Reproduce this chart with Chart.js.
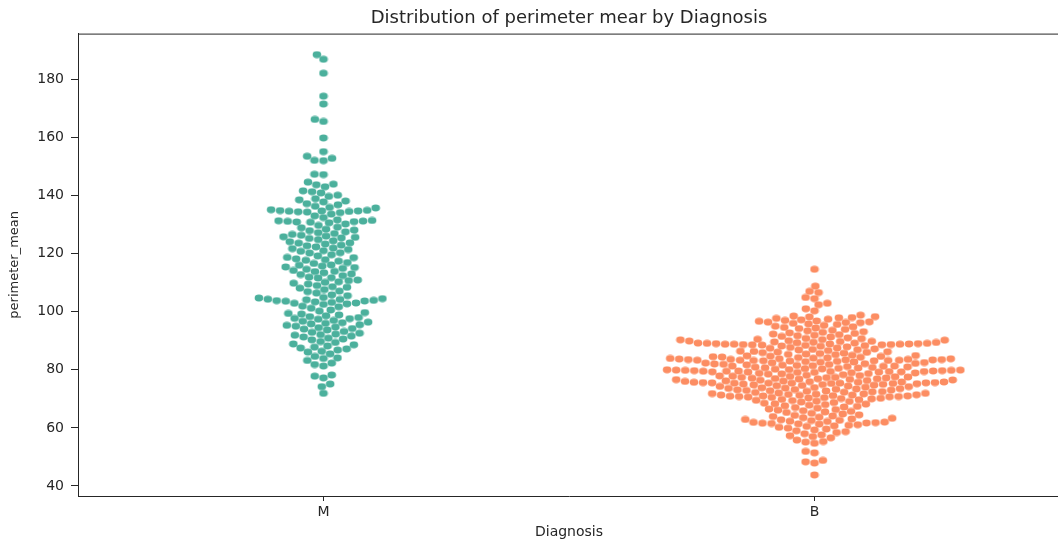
<!DOCTYPE html>
<html>
<head>
<meta charset="utf-8">
<title>Distribution of perimeter mean by Diagnosis</title>
<script src="https://cdn.jsdelivr.net/npm/chart.js@4.4.1/dist/chart.umd.min.js"></script>
<style>
  html, body { margin: 0; padding: 0; background: #fff; overflow: hidden; }
  #wrap { width: 1064px; height: 542px; position: relative; }
</style>
</head>
<body>
<div id="wrap"><canvas id="swarm-chart"></canvas></div>
<script>
// categories on the x axis
const categories = ['M', 'B'];
const yTicks = [40, 60, 80, 100, 120, 140, 160, 180];

const malignantPerimeter = [
    188.5, 186.9, 182.1, 174.2, 171.5, 166.2, 165.5, 159.8, 155.1, 153.5, 152.8, 152.1, 152.0, 147.3, 147.2,
    144.6, 143.9, 143.7, 143.0, 141.6, 141.3, 140.9, 140.1,
    139.7, 138.9, 138.5, 138.1, 137.8, 137.2, 136.8, 136.3, 135.9, 135.7, 135.1,
    134.9, 134.8, 134.7, 134.7, 134.6, 134.5, 134.4, 134.3, 134.1, 133.6, 133.0, 132.4, 131.6, 131.4, 131.3,
    131.2, 131.1, 131.0, 130.9, 130.8, 130.6, 130.2,
    129.7, 129.1, 128.9, 128.4, 128.1, 127.9, 127.5, 127.2, 126.9, 126.6, 126.3, 126.0, 125.8, 125.6, 125.4, 125.2,
    124.8, 124.4, 124.1, 123.7, 123.6, 123.3, 122.9, 122.7, 122.3, 121.9, 121.7, 121.4, 121.0, 120.8, 120.3, 120.2,
    119.6, 119.2, 118.7, 118.6, 118.2, 117.9, 117.7, 117.4, 116.9, 116.6, 116.1, 116.0, 115.7, 115.4, 115.2,
    114.9, 114.6, 114.2, 113.9, 113.8, 113.4, 113.0, 112.8, 112.4, 111.9, 111.7, 111.6, 110.9, 110.7, 110.3, 110.1,
    109.8, 109.5, 109.0, 108.6, 108.4, 108.1, 107.6, 107.1, 106.9, 106.4, 105.8, 105.5,
    104.9, 104.7, 104.5, 104.3, 104.2, 104.1, 103.9, 103.8, 103.7, 103.6, 103.4, 103.2, 103.0, 102.9, 102.7,
    102.5, 101.9, 101.7, 101.2, 100.6, 100.2,
    99.7, 99.4, 99.2, 98.9, 98.6, 98.3, 98.0, 97.7, 97.6, 97.4, 97.0, 96.7, 96.4, 96.2, 96.0, 95.8, 95.5, 95.3, 95.0,
    94.7, 94.5, 94.2, 94.0, 93.7, 93.2, 92.9, 92.6, 92.3, 92.1, 91.9, 91.6, 91.3, 90.9, 90.6, 90.3,
    89.7, 89.4, 88.9, 88.6, 88.2, 87.8, 87.5, 87.2, 86.8, 86.4, 86.1, 85.5,
    84.6, 84.1, 83.9, 83.2, 82.3, 81.8, 81.3,
    78.2, 77.8, 77.2, 75.1, 74.2, 71.9
];

const benignPerimeter = [
    114.6, 108.8, 107.0, 106.6, 104.9, 104.5, 102.9, 102.4, 101.0, 100.3,
    98.8, 98.5, 98.3, 98.2, 98.0, 97.9, 97.7,
    97.4, 97.2, 97.0, 96.8, 96.7, 96.5, 96.4, 96.3, 96.2, 96.0, 95.8, 95.6,
    95.3, 95.0, 94.8, 94.6, 94.4, 94.2, 93.9, 93.6, 93.4,
    93.1, 92.9, 92.7, 92.5, 92.3, 92.1, 91.9, 91.7, 91.5, 91.3,
    91.0, 90.8, 90.7, 90.5, 90.4, 90.3, 90.2, 90.0, 89.9, 89.8, 89.7, 89.6,
    89.5, 89.4, 89.3, 89.2, 89.2, 89.1, 89.1, 89.0, 89.0, 88.9, 88.9, 88.8, 88.8, 88.8, 88.7, 88.7, 88.6, 88.6,
    88.5, 88.4, 88.3, 88.2, 88.1,
    87.9, 87.7, 87.5, 87.4, 87.2, 87.0, 86.9, 86.8, 86.6, 86.4, 86.3, 86.2, 86.1, 86.0,
    85.9, 85.7, 85.6, 85.4, 85.3, 85.2, 85.0, 84.9, 84.8, 84.7, 84.6, 84.5, 84.4, 84.3, 84.2, 84.1, 84.0,
    83.9, 83.8, 83.8, 83.7, 83.6, 83.6, 83.5, 83.5, 83.4, 83.4, 83.3, 83.3, 83.3, 83.2, 83.2, 83.1, 83.1, 83.0,
    82.9, 82.8, 82.7, 82.6, 82.5, 82.4, 82.3,
    82.2, 82.1, 82.0, 81.9, 81.8, 81.7, 81.6, 81.5, 81.4, 81.3, 81.3, 81.2, 81.1, 81.0, 80.9, 80.8, 80.7, 80.6,
    80.5, 80.4, 80.3, 80.2,
    80.1, 80.0, 79.9, 79.9, 79.8, 79.8, 79.7, 79.7, 79.6, 79.6, 79.5, 79.5, 79.4, 79.4, 79.4, 79.3, 79.3, 79.2,
    79.2, 79.1, 79.1, 79.0, 78.9, 78.8, 78.7, 78.6, 78.5, 78.3,
    78.1, 78.0, 77.9, 77.8, 77.7, 77.6, 77.5, 77.4, 77.4, 77.3, 77.2, 77.1, 77.0, 76.9, 76.9, 76.8, 76.7, 76.6,
    76.5, 76.4, 76.3, 76.2, 76.1,
    76.0, 75.9, 75.8, 75.8, 75.7, 75.7, 75.6, 75.6, 75.5, 75.5, 75.4, 75.4, 75.4, 75.4, 75.3, 75.3, 75.2, 75.1,
    75.0, 74.9, 74.8, 74.7, 74.6, 74.5, 74.4, 74.3, 74.2, 74.0,
    73.9, 73.8, 73.7, 73.6, 73.5, 73.4, 73.3, 73.2, 73.1, 73.0, 72.9, 72.8, 72.7, 72.6, 72.5, 72.4, 72.3, 72.2,
    72.0, 71.9,
    71.8, 71.7, 71.6, 71.5, 71.4, 71.3, 71.3, 71.2, 71.1, 71.0, 71.0, 70.9, 70.8, 70.8, 70.7, 70.6, 70.5, 70.4,
    70.3, 70.2, 70.1,
    70.0, 69.8, 69.7, 69.5, 69.4, 69.2, 69.1, 68.9, 68.7, 68.5, 68.3, 68.2, 68.0,
    67.8, 67.6, 67.4, 67.2, 67.0, 66.8, 66.5, 66.3, 66.1, 65.9,
    65.7, 65.5, 65.3, 65.0, 64.8, 64.5, 64.3, 64.1, 63.9,
    63.7, 63.5, 63.3, 63.1, 62.9, 62.8, 62.6, 62.5, 62.3, 62.2, 62.0,
    61.9, 61.8, 61.7, 61.6, 61.5, 61.4, 61.3, 61.1, 60.9, 60.7, 60.5,
    60.2, 59.9, 59.6, 59.3, 59.0, 58.7, 58.4,
    58.0, 57.6, 57.3, 57.0, 56.6,
    55.8, 55.3, 55.1, 54.7,
    51.9, 51.4, 48.8, 48.3, 47.9, 43.8
];

const seriesValues = [malignantPerimeter, benignPerimeter];
const seriesColors = ['#4bb09c', '#fc8d62'];

const FONT = "'DejaVu Sans', sans-serif";
const INK = '#262626';

// dots look slightly wider than tall in the reference
const DOT_R = 3.4;
const X_STRETCH = 1.27;

function dotImage(color) {
    const c = document.createElement('canvas');
    c.width = 10;
    c.height = 8;
    const g = c.getContext('2d');
    g.fillStyle = color;
    g.beginPath();
    g.ellipse(5, 4, DOT_R * X_STRETCH, DOT_R, 0, 0, Math.PI * 2);
    g.fill();
    return c;
}

// beeswarm layout (same idea as seaborn): place points in value order,
// each one at the free spot closest to the category centre
function swarmOffsets(values, toPixel) {
    const d = DOT_R * 2;
    const pts = values.map((v, i) => ({ i: i, y: toPixel(v), x: 0 }));
    pts.sort((a, b) => b.y - a.y);
    const placed = [];
    const out = new Array(values.length);
    pts.forEach(p => {
        const neighbors = [];
        for (let k = placed.length - 1; k >= 0; k--) {
            if (Math.abs(p.y - placed[k].y) < d) neighbors.push(placed[k]);
            else break;
        }
        const cands = [0];
        let leftFirst = true;
        neighbors.forEach(n => {
            const dy = p.y - n.y;
            const dx = Math.sqrt(Math.max(d * d - dy * dy, 0)) * 1.05;
            if (leftFirst) cands.push(n.x - dx, n.x + dx);
            else cands.push(n.x + dx, n.x - dx);
            leftFirst = !leftFirst;
        });
        const order = cands.map((x, k) => ({ x: x, k: k }))
            .sort((a, b) => (Math.abs(a.x) - Math.abs(b.x)) || (a.k - b.k));
        let chosen = 0;
        for (const c of order) {
            const ok = neighbors.every(n => Math.hypot(c.x - n.x, p.y - n.y) >= d - 1e-6);
            if (ok) { chosen = c.x; break; }
        }
        p.x = chosen;
        placed.push(p);
        out[p.i] = chosen * X_STRETCH;
    });
    return out;
}

// top/right spines
const framePlugin = {
    id: 'frame',
    afterDraw(chart) {
        const a = chart.chartArea;
        const ctx = chart.ctx;
        ctx.save();
        ctx.strokeStyle = INK;
        ctx.lineWidth = 1;
        ctx.beginPath();
        ctx.moveTo(a.left, a.top + 0.5);
        ctx.lineTo(a.right, a.top + 0.5);
        ctx.lineTo(a.right, a.bottom);
        ctx.stroke();
        ctx.restore();
    }
};

const ctx = document.getElementById('swarm-chart');

const chart = new Chart(ctx, {
    type: 'scatter',
    data: {
        datasets: seriesValues.map((vals, k) => ({
            label: categories[k],
            data: vals.map(v => ({ x: k, y: v })),
            pointStyle: dotImage(seriesColors[k]),
            pointRadius: 4,
            backgroundColor: seriesColors[k],
            borderWidth: 0
        }))
    },
    options: {
        responsive: true,
        maintainAspectRatio: false,
        animation: false,
        layout: {
            padding: { left: 0, right: 2, top: 0, bottom: 0 }
        },
        plugins: {
            legend: { display: false },
            tooltip: { enabled: false },
            title: {
                display: true,
                fullSize: false,
                text: 'Distribution of perimeter mear by Diagnosis',
                color: INK,
                font: { family: FONT, size: 18, weight: 'normal' },
                padding: { top: 8, bottom: 4 }
            }
        },
        scales: {
            x: {
                type: 'linear',
                min: -0.5,
                max: 1.5,
                afterBuildTicks: (scale) => {
                    scale.ticks = categories.map((c, i) => ({ value: i }));
                },
                afterFit: (scale) => {
                    scale.height = 46;
                },
                ticks: {
                    callback: (value) => categories[value],
                    color: INK,
                    font: { family: FONT, size: 14 },
                    padding: 3,
                    maxRotation: 0
                },
                grid: {
                    display: true,
                    drawOnChartArea: false,
                    tickLength: 5,
                    color: INK
                },
                border: { color: INK, width: 1 },
                title: {
                    display: true,
                    text: 'Diagnosis',
                    color: INK,
                    font: { family: FONT, size: 14 },
                    padding: { top: 2, bottom: 1 }
                }
            },
            y: {
                min: 36.55,
                max: 195.74,
                afterBuildTicks: (scale) => {
                    scale.ticks = yTicks.map(v => ({ value: v }));
                },
                afterFit: (scale) => {
                    scale.width = 78;
                },
                ticks: {
                    color: INK,
                    font: { family: FONT, size: 14 },
                    padding: 7
                },
                grid: {
                    display: true,
                    drawOnChartArea: false,
                    tickLength: 7,
                    color: INK
                },
                border: { color: INK, width: 1 },
                title: {
                    display: true,
                    text: 'perimeter_mean',
                    color: INK,
                    font: { family: FONT, size: 13 },
                    padding: { top: 7, bottom: 4 }
                }
            }
        }
    },
    plugins: [framePlugin]
});

// now that the scales exist, spread each category into a swarm
const xScale = chart.scales.x;
const yScale = chart.scales.y;
const pxPerUnit = xScale.getPixelForValue(1) - xScale.getPixelForValue(0);
chart.data.datasets.forEach((ds, k) => {
    const vals = seriesValues[k];
    const offs = swarmOffsets(vals, v => yScale.getPixelForValue(v));
    ds.data = vals.map((v, i) => ({ x: k + offs[i] / pxPerUnit, y: v }));
});
chart.update();
</script>
</body>
</html>
